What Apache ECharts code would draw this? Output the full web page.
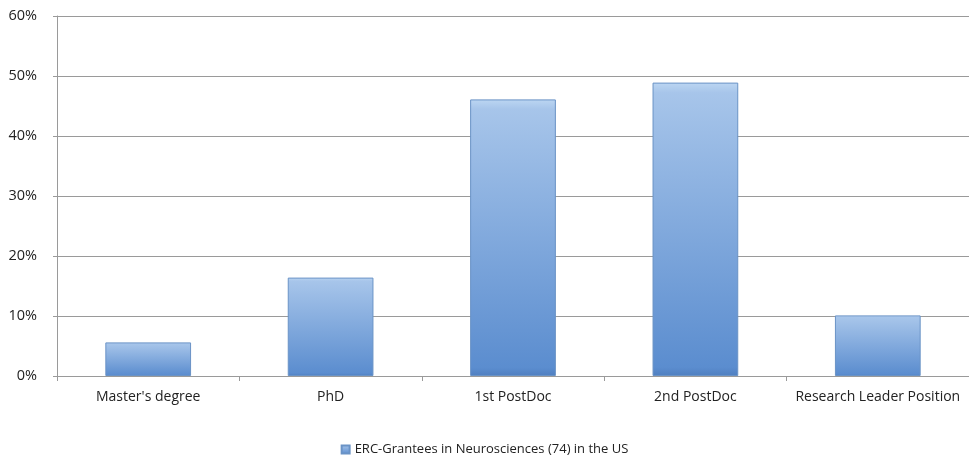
<!DOCTYPE html>
<html>
<head>
<meta charset="utf-8">
<script src="https://cdn.jsdelivr.net/npm/echarts@6/dist/echarts.min.js"></script>
<style>
  html, body { margin: 0; padding: 0; background: #fff; }
  #chart { width: 969px; height: 456px; }
</style>
</head>
<body>
<div id="chart"></div>
<script>
// Career stage at which grantees moved to the US
const categories = ["Master's degree", "PhD", "1st PostDoc", "2nd PostDoc", "Research Leader Position"];
const shares = [5.6, 16.4, 46.1, 48.9, 10.1];
const seriesName = 'ERC-Grantees in Neurosciences (74) in the US';
const yTicks = { min: 0, max: 60, interval: 10 };

const font = '"Open Sans", "DejaVu Sans", sans-serif';
const barFill = new echarts.graphic.LinearGradient(0, 0, 0, 1, [
  { offset: 0, color: '#bcd6f2' },
  { offset: 0.035, color: '#a7c5ea' },
  { offset: 0.97, color: '#5b8dcf' },
  { offset: 1, color: '#4f7fc0' }
]);

const chart = echarts.init(document.getElementById('chart'), null, { renderer: 'canvas' });
chart.setOption({
  animation: false,
  grid: { left: 57, right: 0, top: 16, bottom: 80 },
  legend: {
    top: 443,
    left: 'center',
    padding: 0,
    itemWidth: 8,
    itemHeight: 8,
    icon: 'rect',
    itemGap: 12,
    textStyle: { fontFamily: font, fontSize: 13, color: '#222' },
    data: [seriesName]
  },
  xAxis: {
    type: 'category',
    data: categories,
    axisLine: { lineStyle: { color: '#9a9a9a', width: 1 } },
    axisTick: { show: true, length: 5, lineStyle: { color: '#9a9a9a' } },
    axisLabel: { interval: 0, fontFamily: font, fontSize: 14, color: '#222', margin: 14 }
  },
  yAxis: {
    type: 'value',
    min: yTicks.min,
    max: yTicks.max,
    interval: yTicks.interval,
    axisLine: { show: true, lineStyle: { color: '#9a9a9a', width: 1 } },
    axisTick: { show: true, length: 4, lineStyle: { color: '#9a9a9a' } },
    splitLine: { lineStyle: { color: '#9a9a9a', width: 1 } },
    axisLabel: { fontFamily: font, fontSize: 14.5, color: '#222', margin: 20, formatter: '{value}%' }
  },
  series: [{
    name: seriesName,
    type: 'bar',
    data: shares,
    barWidth: '47%',
    itemStyle: { color: barFill, borderColor: '#6a93c6', borderWidth: 1 }
  }]
});
</script>
</body>
</html>
